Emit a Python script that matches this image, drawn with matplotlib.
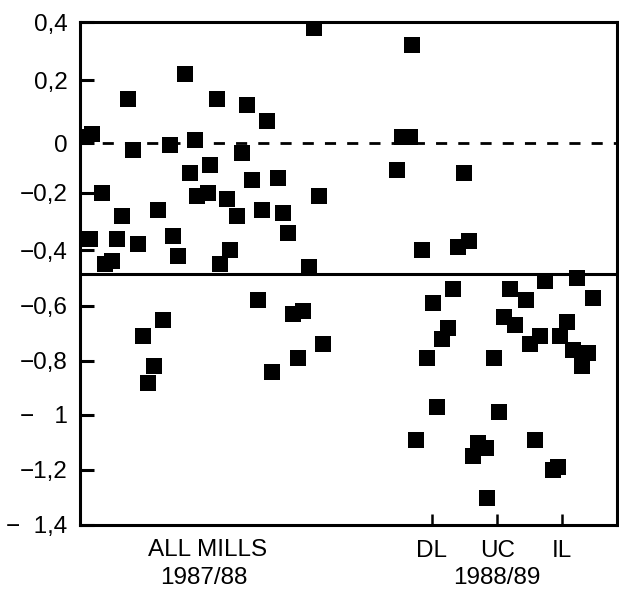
import numpy as np
import matplotlib
matplotlib.use("Agg")
import matplotlib.pyplot as plt

plt.rcParams['font.family'] = ['Liberation Sans', 'DejaVu Sans']

# ---- data -------------------------------------------------------------
# All mills 1987/88 (x = position along the axis, arbitrary units 0..100)
mills_8788_x = [0.9, 2.2, 8.9, 19.6, 25.5, 31.1, 34.8, 43.6, 9.9, 16.8, 21.4, 30.2,
                20.5, 24.2, 32.0, 36.9, 4.1, 21.8, 23.8, 27.4, 44.5, 7.8, 14.5, 29.2,
                33.9, 37.8, 1.9, 6.9, 10.8, 17.3, 18.2, 38.7, 27.9, 26.1, 4.7, 6.0, 42.6,
                33.1, 15.5, 11.7, 13.8, 12.7, 39.7, 41.5, 45.3, 40.6, 35.8]
mills_8788_y = [0.02, 0.03, 0.14, 0.22, 0.14, 0.12, 0.07, 0.38, -0.03, -0.01, 0.01, -0.04,
                -0.12, -0.09, -0.15, -0.14, -0.20, -0.21, -0.20, -0.22, -0.21, -0.28, -0.26, -0.28,
                -0.26, -0.27, -0.36, -0.36, -0.38, -0.35, -0.42, -0.34, -0.40, -0.45, -0.45, -0.44, -0.46,
                -0.58, -0.65, -0.71, -0.82, -0.88, -0.63, -0.62, -0.74, -0.79, -0.84]

# 1988/89 (DL, UC, IL groups)
mills_8889_x = [61.8, 60.0, 61.5, 59.0, 71.5, 63.7, 70.4, 72.4,
                86.6, 92.6, 69.5, 65.7, 80.1, 83.1, 95.5, 68.5, 67.4, 79.0, 81.0, 90.7,
                89.4, 85.7, 83.8, 91.8, 94.6, 93.5, 64.6, 77.1, 66.5, 78.0, 62.6, 74.1,
                75.6, 73.2, 84.7, 88.1, 89.0, 75.8]
mills_8889_y = [0.32, 0.02, 0.02, -0.11, -0.12, -0.40, -0.39, -0.37,
                -0.51, -0.50, -0.54, -0.59, -0.54, -0.58, -0.57, -0.68, -0.72, -0.64, -0.67, -0.66,
                -0.71, -0.71, -0.74, -0.76, -0.77, -0.82, -0.79, -0.79, -0.97, -0.99, -1.09, -1.10,
                -1.12, -1.15, -1.09, -1.20, -1.19, -1.30]

ytick_values = [0.4, 0.2, 0.0, -0.2, -0.4, -0.6, -0.8, -1.0, -1.2, -1.4]
ytick_labels = ["0,4", "0,2", "0", "\u22120,2", "\u22120,4", "\u22120,6", "\u22120,8",
                "\u2212   1", "\u22121,2", "\u2212  1,4"]
group_ticks = [65.5, 77.7, 89.8]
group_labels = ["DL", "UC", "IL"]
zero_line = 0.0
threshold_line = -0.486

# printed axis spacing of the original figure (uneven in the print)
axis_vals = np.array([-1.4, -1.2, -1.0, -0.8, -0.6, -0.4, -0.2, 0.0, 0.2, 0.4])
axis_pos = -np.array([525, 470, 415, 361, 306, 250, 193, 143, 80, 22], dtype=float)

def fwd(v):
    return np.interp(v, axis_vals, axis_pos)

def inv(p):
    return np.interp(p, axis_pos, axis_vals)

# ---- figure -----------------------------------------------------------
fs = 17.5
fig = plt.figure(figsize=(6.19, 5.95), dpi=100)
ax = fig.add_axes([80/619, 70/595, 537/619, 503/595])
ax.set_yscale('function', functions=(fwd, inv))
ax.set_ylim(-1.4, 0.4)
ax.set_xlim(0, 100)

ms = 11
ax.plot(mills_8788_x, mills_8788_y, 's', color='black', ms=ms, mew=0, zorder=3)
ax.plot(mills_8889_x, mills_8889_y, 's', color='black', ms=ms, mew=0, zorder=3)

ax.axhline(zero_line, color='black', lw=2, dashes=(4, 4), zorder=2)
ax.axhline(threshold_line, color='black', lw=2.2, zorder=2)

for s in ax.spines.values():
    s.set_linewidth(2.2)

ax.set_yticks(ytick_values)
ax.set_yticklabels(ytick_labels, fontsize=fs)
ax.yaxis.set_minor_locator(matplotlib.ticker.NullLocator())
ax.tick_params(axis='y', direction='in', length=10, width=2.2, pad=9)

ax.set_xticks(group_ticks)
ax.set_xticklabels(group_labels, fontsize=fs)
ax.tick_params(axis='x', direction='in', length=8, width=1.8, pad=11)

fig.text(208/619, 1 - 550/595, "ALL MILLS", ha='center', va='center', fontsize=fs)
fig.text(204/619, 1 - 578/595, "1987/88", ha='center', va='center', fontsize=fs)
fig.text(497/619, 1 - 578/595, "1988/89", ha='center', va='center', fontsize=fs)

fig.savefig("out.png", dpi=100)
